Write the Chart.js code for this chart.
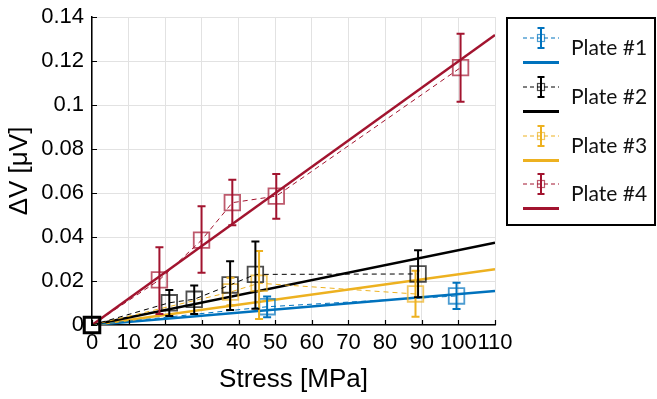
<!DOCTYPE html>
<html>
<head>
<meta charset="utf-8">
<script src="https://cdn.jsdelivr.net/npm/chart.js@4.4.0/dist/chart.umd.min.js"></script>
<style>
  html, body { margin: 0; padding: 0; background: #fff; }
  #wrap { width: 657px; height: 399px; }
</style>
</head>
<body>
<div id="wrap"><canvas id="chart" width="657" height="399"></canvas></div>
<script>
// values
var plateNames = ['Plate #1', 'Plate #2', 'Plate #3', 'Plate #4'];
var plateColors = ['#0072BD', '#000000', '#EDB120', '#A2142F'];
var markerColors = ['rgba(0,114,189,0.7)', 'rgba(0,0,0,0.7)', 'rgba(237,177,32,0.7)', 'rgba(162,20,47,0.7)'];

var stress1 = [0, 47.8, 99.5];
var dv1 = [0, 0.0083, 0.0132];
var errLo1 = [0, 0.0035, 0.0073];
var errHi1 = [0, 0.0129, 0.0192];

var stress2 = [0, 21.1, 27.9, 37.7, 44.6, 89.0];
var dv2 = [0, 0.0101, 0.0117, 0.0182, 0.0230, 0.0232];
var errLo2 = [0, 0.0041, 0.0050, 0.0068, 0.0074, 0.0126];
var errHi2 = [0, 0.0159, 0.0179, 0.0290, 0.0380, 0.0340];

var stress3 = [0, 37.8, 45.6, 88.3];
var dv3 = [0, 0.0150, 0.0190, 0.0141];
var errLo3 = [0, 0.0090, 0.0027, 0.0038];
var errHi3 = [0, 0.0215, 0.0336, 0.0247];

var stress4 = [0, 18.4, 29.9, 38.3, 50.3, 100.6];
var dv4 = [0, 0.0205, 0.0386, 0.0556, 0.0586, 0.1170];
var errLo4 = [0, 0.0050, 0.0238, 0.0453, 0.0483, 0.1015];
var errHi4 = [0, 0.0353, 0.0540, 0.0660, 0.0686, 0.1324];

// linear fits through the origin, value at the right edge (x = 110)
var fitX = [0, 110];
var fitEnd = [0.0155, 0.0374, 0.0253, 0.1318];

var xTicks = [0, 10, 20, 30, 40, 50, 60, 70, 80, 90, 100, 110];
var yTicks = [0, 0.02, 0.04, 0.06, 0.08, 0.1, 0.12, 0.14];

var stressAll = [stress1, stress2, stress3, stress4];
var dvAll = [dv1, dv2, dv3, dv4];
var loAll = [errLo1, errLo2, errLo3, errLo4];
var hiAll = [errHi1, errHi2, errHi3, errHi4];

function pts(xs, ys) {
    return xs.map(function (x, i) { return {x: x, y: ys[i]}; });
}

var datasets = [];
// measured points, dashed connection
[1, 3, 2, 0].forEach(function (k) {
    var bw = dvAll[k].map(function (v, i) { return (k === 1 && i === 0) ? 3 : 1.8; });
    var bc = dvAll[k].map(function (v, i) { return (k === 1 && i === 0) ? '#000' : markerColors[k]; });
    datasets.push({
        label: plateNames[k],
        data: pts(stressAll[k], dvAll[k]),
        showLine: true,
        borderColor: plateColors[k],
        borderWidth: 1,
        borderDash: [5, 4],
        pointStyle: 'rect',
        pointRadius: 11,
        pointBorderWidth: bw,
        pointBorderColor: bc,
        pointBackgroundColor: 'rgba(0,0,0,0)',
        clip: false
    });
});
// fit lines
[3, 1, 2, 0].forEach(function (k) {
    datasets.push({
        label: plateNames[k] + ' fit',
        data: pts(fitX, [0, fitEnd[k]]),
        showLine: true,
        borderColor: plateColors[k],
        borderWidth: 2.5,
        pointRadius: 0
    });
});

var errorBars = {
    id: 'errorBars',
    afterDatasetsDraw: function (chart) {
        var ctx = chart.ctx, xs = chart.scales.x, ys = chart.scales.y;
        ctx.save();
        [2, 0, 1, 3].forEach(function (k) {
            ctx.strokeStyle = plateColors[k];
            ctx.lineWidth = 2;
            stressAll[k].forEach(function (sx, i) {
                if (i === 0) return;
                var px = xs.getPixelForValue(sx);
                var top = ys.getPixelForValue(hiAll[k][i]);
                var bot = ys.getPixelForValue(loAll[k][i]);
                ctx.beginPath();
                ctx.moveTo(px, top); ctx.lineTo(px, bot);
                ctx.moveTo(px - 4, top); ctx.lineTo(px + 4, top);
                ctx.moveTo(px - 4, bot); ctx.lineTo(px + 4, bot);
                ctx.stroke();
            });
        });
        ctx.restore();
    }
};

var axisTicks = {
    id: 'axisTicks',
    afterDraw: function (chart) {
        var ctx = chart.ctx, xs = chart.scales.x, ys = chart.scales.y, a = chart.chartArea;
        ctx.save();
        ctx.strokeStyle = '#000';
        ctx.lineWidth = 1.2;
        ctx.beginPath();
        xTicks.forEach(function (v) {
            var px = Math.round(xs.getPixelForValue(v)) + 0.5;
            ctx.moveTo(px, a.bottom); ctx.lineTo(px, a.bottom - 5);
        });
        yTicks.forEach(function (v) {
            var py = Math.round(ys.getPixelForValue(v)) + 0.5;
            ctx.moveTo(a.left, py); ctx.lineTo(a.left + 5, py);
        });
        ctx.stroke();

        // legend box
        var lx = 507, ly = 18, lw = 148, lh = 207;
        ctx.lineWidth = 2;
        ctx.strokeRect(lx, ly, lw, lh);
        var rowY = [38, 87, 136, 184];
        plateNames.forEach(function (name, k) {
            var y = rowY[k];
            ctx.strokeStyle = plateColors[k];
            ctx.lineWidth = 1;
            ctx.setLineDash([4, 3]);
            ctx.beginPath(); ctx.moveTo(523, y); ctx.lineTo(559, y); ctx.stroke();
            ctx.setLineDash([]);
            ctx.lineWidth = 2;
            ctx.beginPath();
            ctx.moveTo(541, y - 10); ctx.lineTo(541, y + 10);
            ctx.moveTo(537.5, y - 10); ctx.lineTo(544.5, y - 10);
            ctx.moveTo(537.5, y + 10); ctx.lineTo(544.5, y + 10);
            ctx.stroke();
            ctx.strokeStyle = markerColors[k];
            ctx.lineWidth = 1.2;
            ctx.strokeRect(537.5, y - 3.5, 7, 7);
            ctx.strokeStyle = plateColors[k];
            ctx.lineWidth = 3;
            ctx.beginPath(); ctx.moveTo(523, y + 24.5); ctx.lineTo(559, y + 24.5); ctx.stroke();
            ctx.fillStyle = '#111';
            ctx.font = '21px Lato';
            ctx.textBaseline = 'middle';
            ctx.fillText(name, 571, y + 10);
        });
        ctx.restore();
    }
};

var tickFont = {family: "'Liberation Sans', Arial, sans-serif", size: 22};
var titleFont = {family: "'Liberation Sans', Arial, sans-serif", size: 26};
var chart = new Chart(document.getElementById('chart'), {
    type: 'scatter',
    data: {datasets: datasets},
    options: {
        responsive: false,
        animation: false,
        layout: {padding: {left: 0, top: 17, right: 162, bottom: 0}},
        plugins: {legend: {display: false}, tooltip: {enabled: false}},
        scales: {
            x: {
                type: 'linear', min: 0, max: 110,
                afterBuildTicks: function (s) { s.ticks = xTicks.map(function (v) { return {value: v}; }); },
                afterFit: function (s) { s.height = 74; s.paddingLeft = 0; s.paddingRight = 0; },
                ticks: {font: tickFont, color: '#000', autoSkip: false, maxRotation: 0, padding: 5},
                grid: {color: '#e2e2e2', drawTicks: false},
                border: {color: '#000', width: 1.5},
                title: {display: true, text: 'Stress [MPa]', color: '#000', font: titleFont, padding: {top: 0}}
            },
            y: {
                type: 'linear', min: 0, max: 0.14,
                afterBuildTicks: function (s) { s.ticks = yTicks.map(function (v) { return {value: v}; }); },
                afterFit: function (s) { s.width = 92; s.paddingTop = 0; s.paddingBottom = 0; },
                ticks: {font: tickFont, color: '#000', padding: 8,
                        callback: function (v) { return String(Number(v.toFixed(2))); }},
                grid: {color: '#e2e2e2', drawTicks: false},
                border: {color: '#000', width: 1.5},
                title: {display: true, text: 'ΔV [μV]', color: '#000', font: titleFont, padding: {bottom: 0}}
            }
        }
    },
    plugins: [errorBars, axisTicks]
});
</script>
</body>
</html>
